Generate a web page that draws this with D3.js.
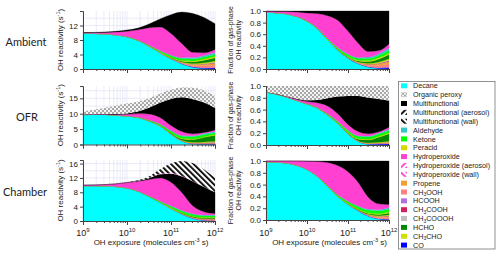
<!DOCTYPE html>
<html>
<head>
  <meta charset="utf-8">
  <script src="https://d3js.org/d3.v7.min.js"></script>
  <style>
    body { margin: 0; background: #fff; }
    svg text { font-family: "Liberation Sans", Arial, sans-serif; fill: #222; }
  </style>
</head>
<body>
<svg width="500" height="255"></svg>
<script>
// log10 of OH exposure (molecules cm-3 s) at which values were read
var logExposure = [9, 9.25, 9.5, 9.75, 10, 10.25, 10.5, 10.75, 11, 11.25, 11.5, 11.75, 12];

// --- Ambient (OH reactivity, s-1)
var ambDecane   = [9.85, 9.8, 9.7, 9.4, 8.9, 7.9, 6.3, 4.5, 2.8, 1.4, 0.5, 0.12, 0.02];
var ambCO       = [0, 0, 0, 0, 0, 0, 0, 0.01, 0.02, 0.05, 0.1, 0.2, 0.3];
var ambCH3OOH   = [0, 0, 0, 0, 0, 0, 0.01, 0.03, 0.08, 0.2, 0.4, 0.6, 0.8];
var ambPropene  = [0, 0, 0, 0, 0, 0, 0.01, 0.02, 0.05, 0.12, 0.25, 0.4, 0.5];
var ambHCOOH    = [0, 0, 0, 0, 0, 0, 0, 0, 0, 0.01, 0.03, 0.06, 0.1];
var ambCH3COOH  = [0, 0, 0, 0, 0, 0, 0, 0, 0, 0.01, 0.02, 0.05, 0.1];
var ambCH3COOOH = [0, 0, 0, 0, 0, 0, 0, 0, 0, 0.01, 0.02, 0.05, 0.1];
var ambCH3CHO   = [0, 0, 0, 0, 0, 0.01, 0.02, 0.04, 0.08, 0.12, 0.2, 0.25, 0.3];
var ambHCHO     = [0, 0, 0, 0, 0, 0.01, 0.02, 0.05, 0.12, 0.25, 0.45, 0.7, 0.9];
var ambPeracid  = [0, 0, 0, 0, 0.01, 0.02, 0.04, 0.07, 0.12, 0.18, 0.25, 0.3, 0.3];
var ambKetone   = [0, 0, 0, 0.01, 0.03, 0.07, 0.14, 0.28, 0.45, 0.55, 0.6, 0.6, 0.6];
var ambAldehyde = [0, 0, 0, 0, 0.01, 0.02, 0.04, 0.08, 0.14, 0.22, 0.32, 0.42, 0.5];
var ambHydroperoxide = [0.15, 0.22, 0.4, 0.79, 1.45, 2.77, 4.82, 6.5, 5.94, 3.88, 1.46, 0.75, 0.88];
var ambMulti    = [0.05, 0.08, 0.1, 0.2, 0.35, 0.5, 1.0, 2.2, 5.2, 8.7, 10.7, 9.7, 7.1];

// --- OFR
var ofrDecane   = [9.7, 9.75, 9.75, 9.5, 9.24, 8.8, 7.65, 6.1, 3.4, 1.1, 0.2, 0.05, 0.01];
var ofrCO       = [0, 0, 0, 0, 0, 0, 0, 0.01, 0.03, 0.08, 0.15, 0.25, 0.35];
var ofrCH3OOH   = [0, 0, 0, 0, 0, 0, 0, 0, 0.01, 0.03, 0.06, 0.1, 0.15];
var ofrPropene  = [0, 0, 0, 0, 0, 0, 0, 0, 0.01, 0.03, 0.06, 0.1, 0.12];
var ofrHCOOH    = [0, 0, 0, 0, 0, 0, 0, 0, 0, 0, 0.02, 0.04, 0.06];
var ofrCH3COOH  = [0, 0, 0, 0, 0, 0, 0, 0, 0, 0, 0.02, 0.03, 0.05];
var ofrCH3COOOH = [0, 0, 0, 0, 0, 0, 0, 0, 0, 0, 0.02, 0.03, 0.04];
var ofrCH3CHO   = [0, 0, 0, 0, 0, 0.01, 0.02, 0.04, 0.07, 0.12, 0.18, 0.22, 0.25];
var ofrHCHO     = [0, 0, 0, 0, 0, 0.01, 0.03, 0.08, 0.2, 0.45, 0.9, 1.5, 2.0];
var ofrPeracid  = [0, 0, 0, 0, 0.01, 0.02, 0.04, 0.06, 0.1, 0.15, 0.2, 0.22, 0.22];
var ofrKetone   = [0, 0, 0, 0.01, 0.03, 0.07, 0.14, 0.3, 0.55, 0.75, 0.75, 0.7, 0.6];
var ofrAldehyde = [0, 0, 0, 0, 0.01, 0.02, 0.04, 0.08, 0.14, 0.2, 0.28, 0.35, 0.4];
var ofrHydroperoxide = [0.02, 0.05, 0.12, 0.25, 0.5, 1.1, 2.0, 2.1, 1.7, 1.3, 0.66, 0.31, 0.49];
var ofrMulti    = [0, 0, 0, 0.14, 0.31, 0.67, 1.98, 4.78, 8.59, 11.14, 11.2, 9.75, 7.11];
var ofrPeroxy   = [1.08, 1.5, 2.1, 2.7, 3.2, 3.3, 3.1, 2.95, 3.0, 3.15, 3.7, 3.85, 3.95];

// --- Chamber
var chDecane    = [9.85, 9.85, 9.8, 9.6, 9.2, 8.3, 6.8, 5.2, 3.5, 1.9, 0.7, 0.15, 0.03];
var chCO        = [0, 0, 0, 0, 0, 0, 0, 0, 0.01, 0.02, 0.04, 0.06, 0.08];
var chCH3OOH    = [0, 0, 0, 0, 0, 0, 0, 0.01, 0.03, 0.07, 0.12, 0.18, 0.22];
var chPropene   = [0, 0, 0, 0, 0, 0, 0, 0.01, 0.02, 0.05, 0.1, 0.14, 0.18];
var chHCOOH     = [0, 0, 0, 0, 0, 0, 0, 0, 0, 0.01, 0.02, 0.03, 0.04];
var chCH3COOH   = [0, 0, 0, 0, 0, 0, 0, 0, 0, 0, 0.01, 0.02, 0.03];
var chCH3COOOH  = [0, 0, 0, 0, 0, 0, 0, 0, 0, 0, 0.01, 0.02, 0.03];
var chCH3CHO    = [0, 0, 0, 0, 0, 0, 0.01, 0.02, 0.04, 0.06, 0.08, 0.1, 0.1];
var chHCHO      = [0, 0, 0, 0, 0, 0, 0.01, 0.02, 0.05, 0.1, 0.15, 0.2, 0.25];
var chPeracid   = [0, 0, 0, 0, 0, 0.01, 0.02, 0.04, 0.07, 0.1, 0.12, 0.12, 0.12];
var chKetone    = [0, 0, 0, 0, 0.01, 0.04, 0.1, 0.22, 0.4, 0.5, 0.5, 0.45, 0.4];
var chAldehyde  = [0, 0, 0, 0, 0, 0.01, 0.02, 0.05, 0.1, 0.15, 0.18, 0.2, 0.2];
var chHydroperoxide = [0.15, 0.2, 0.35, 0.75, 1.49, 2.74, 4.64, 6.43, 6.58, 4.94, 2.17, 0.93, 0.42];
var chMulti     = [0, 0, 0, 0, 0.05, 0.1, 0.3, 1.0, 2.4, 4.5, 6.8, 6.9, 5.9];
var chHydroWall = [0, 0, 0, 0, 0, 0.03, 0.1, 0.2, 0.2, 0.12, 0.06, 0.03, 0.02];
var chMultiWall = [0, 0, 0, 0, 0, 0.1, 0.4, 1.2, 2.6, 4.2, 5.0, 4.8, 4.0];

// legend order
var species = ["Decane", "Organic peroxy", "Multifunctional", "Multifunctional (aerosol)",
  "Multifunctional (wall)", "Aldehyde", "Ketone", "Peracid", "Hydroperoxide",
  "Hydroperoxide (aerosol)", "Hydroperoxide (wall)", "Propene", "CH3OOH", "HCOOH",
  "CH3COOH", "CH3COOOH", "HCHO", "CH3CHO", "CO"];
var speciesFill = ["#00ffff", "url(#checker)", "#000000", "url(#multiAer)", "url(#multiWall)",
  "#33c8c8", "#00ff00", "#d6d600", "#ff40d0", "url(#hydAer)", "url(#hydWall)", "#f0a030",
  "#ff8080", "#b070e0", "#d02060", "#c0c0c0", "#008800", "#d0e000", "#0000ff"];

// stacking order, bottom to top
var stackOrder = ["Decane", "CO", "CH3OOH", "Propene", "HCOOH", "CH3COOH", "CH3COOOH", "CH3CHO",
  "HCHO", "Peracid", "Ketone", "Aldehyde", "Hydroperoxide", "Multifunctional",
  "Hydroperoxide (aerosol)", "Hydroperoxide (wall)", "Multifunctional (aerosol)",
  "Multifunctional (wall)", "Organic peroxy"];
var gasOrder = stackOrder.filter(function(k) { return k.indexOf("(") < 0; });

var fillOf = {};
species.forEach(function(s, i) { fillOf[s] = speciesFill[i]; });

function buildRows(series) {
  return logExposure.map(function(e, i) {
    var row = {x: Math.pow(10, e)};
    species.forEach(function(s) { row[s] = series[s] ? series[s][i] : 0; });
    return row;
  });
}

var rows = [
  {label: "Ambient", lx: 26, ly: 46, yMax: 16, yTicks: [0, 4, 8, 12], top: 11, bottom: 69, rTop: 11, rBottom: 69,
   series: {"Decane": ambDecane, "CO": ambCO, "CH3OOH": ambCH3OOH, "Propene": ambPropene, "HCOOH": ambHCOOH,
     "CH3COOH": ambCH3COOH, "CH3COOOH": ambCH3COOOH, "CH3CHO": ambCH3CHO, "HCHO": ambHCHO, "Peracid": ambPeracid,
     "Ketone": ambKetone, "Aldehyde": ambAldehyde, "Hydroperoxide": ambHydroperoxide, "Multifunctional": ambMulti}},
  {label: "OFR", lx: 27, ly: 121, yMax: 19, yTicks: [0, 5, 10, 15], top: 86, bottom: 144.5, rTop: 86, rBottom: 145,
   series: {"Decane": ofrDecane, "CO": ofrCO, "CH3OOH": ofrCH3OOH, "Propene": ofrPropene, "HCOOH": ofrHCOOH,
     "CH3COOH": ofrCH3COOH, "CH3COOOH": ofrCH3COOOH, "CH3CHO": ofrCH3CHO, "HCHO": ofrHCHO, "Peracid": ofrPeracid,
     "Ketone": ofrKetone, "Aldehyde": ofrAldehyde, "Hydroperoxide": ofrHydroperoxide, "Multifunctional": ofrMulti,
     "Organic peroxy": ofrPeroxy}},
  {label: "Chamber", lx: 25, ly: 196, yMax: 17, yTicks: [0, 4, 8, 12, 16], top: 160, bottom: 221, rTop: 161, rBottom: 220,
   series: {"Decane": chDecane, "CO": chCO, "CH3OOH": chCH3OOH, "Propene": chPropene, "HCOOH": chHCOOH,
     "CH3COOH": chCH3COOH, "CH3COOOH": chCH3COOOH, "CH3CHO": chCH3CHO, "HCHO": chHCHO, "Peracid": chPeracid,
     "Ketone": chKetone, "Aldehyde": chAldehyde, "Hydroperoxide": chHydroperoxide, "Multifunctional": chMulti,
     "Hydroperoxide (wall)": chHydroWall, "Multifunctional (wall)": chMultiWall}}
];

var svg = d3.select("svg");
svg.append("rect").attr("width", 500).attr("height", 255).attr("fill", "#fff");

// fill patterns
var defs = svg.append("defs");
function hatch(id, color, angle) {
  var p = defs.append("pattern").attr("id", id).attr("patternUnits", "userSpaceOnUse")
    .attr("width", 4).attr("height", 4).attr("patternTransform", "rotate(" + angle + ")");
  p.append("rect").attr("width", 4).attr("height", 4).attr("fill", "#fff");
  p.append("rect").attr("width", 1.8).attr("height", 4).attr("fill", color);
}
hatch("multiAer", "#000", 45);
hatch("multiWall", "#000", -45);
hatch("hydAer", "#ff40d0", 45);
hatch("hydWall", "#ff40d0", -45);
var ck = defs.append("pattern").attr("id", "checker").attr("patternUnits", "userSpaceOnUse")
  .attr("width", 4).attr("height", 4);
ck.append("rect").attr("width", 4).attr("height", 4).attr("fill", "#f4f4f4");
ck.append("rect").attr("width", 2).attr("height", 2).attr("fill", "#a8a8a8");
ck.append("rect").attr("x", 2).attr("y", 2).attr("width", 2).attr("height", 2).attr("fill", "#a8a8a8");

function isDecade(d) {
  var l = Math.log10(d);
  return Math.abs(l - Math.round(l)) < 1e-6;
}

function drawXAxis(x, yPos, labels) {
  var g = svg.append("g").attr("transform", "translate(0," + yPos + ")")
    .call(d3.axisBottom(x).tickValues(x.ticks()).tickSize(4).tickFormat(""));
  g.selectAll(".tick line").attr("y2", function(d) { return isDecade(d) ? 4 : 2; }).attr("stroke", "#444");
  g.select(".domain").attr("stroke", "#444");
  if (labels) {
    [1e9, 1e10, 1e11, 1e12].forEach(function(d) {
      var t = svg.append("text").attr("x", x(d)).attr("y", 236)
        .attr("text-anchor", "middle").style("font-size", "9px");
      t.append("tspan").text("10");
      t.append("tspan").attr("dy", -4).style("font-size", "6px").text(Math.round(Math.log10(d)));
    });
    var xt = svg.append("text").attr("x", (x.range()[0] + x.range()[1]) / 2 + 2).attr("y", 245)
      .attr("text-anchor", "middle").style("font-size", "8px");
    xt.append("tspan").text("OH exposure (molecules cm");
    xt.append("tspan").attr("dy", -3).style("font-size", "5.5px").text("-3");
    xt.append("tspan").attr("dy", 3).text(" s)");
  }
}

function drawYAxis(y, xPos, ticks, fmt) {
  var g = svg.append("g").attr("transform", "translate(" + xPos + ",0)")
    .call(d3.axisLeft(y).tickValues(ticks).tickSize(3).tickPadding(2).tickFormat(fmt));
  g.select(".domain").attr("stroke", "#444");
  g.selectAll(".tick line").attr("stroke", "#444");
  g.selectAll(".tick text").style("font-size", "8px").attr("fill", "#222");
}

rows.forEach(function(r, ri) {
  var data = buildRows(r.series);
  var last = ri === rows.length - 1;

  // ---------- left: absolute OH reactivity
  var x = d3.scaleLog().domain([1e9, 1e12]).range([83, 215]);
  var y = d3.scaleLinear().domain([0, r.yMax]).range([r.bottom, r.top]);

  var grid = svg.append("g").attr("stroke", "#e2e2f6").attr("stroke-width", 0.7);
  x.ticks().forEach(function(d) {
    grid.append("line").attr("x1", x(d)).attr("x2", x(d)).attr("y1", r.top).attr("y2", r.bottom);
  });
  d3.range(0, r.yMax, r.yTicks[1] / 2).forEach(function(d) {
    grid.append("line").attr("x1", 83).attr("x2", 215).attr("y1", y(d)).attr("y2", y(d));
  });

  var stacked = d3.stack().keys(stackOrder)(data);
  var area = d3.area()
    .x(function(d) { return x(d.data.x); })
    .y0(function(d) { return y(d[0]); })
    .y1(function(d) { return y(d[1]); })
    .curve(d3.curveMonotoneX);

  svg.append("g").selectAll("path").data(stacked).enter().append("path")
    .attr("d", area)
    .attr("fill", function(d) { return fillOf[d.key]; })
    .attr("stroke", function(d) { return fillOf[d.key].indexOf("url") === 0 ? "none" : fillOf[d.key]; })
    .attr("stroke-width", 0.3);

  drawXAxis(x, r.bottom, last);
  drawYAxis(y, 83, r.yTicks, d3.format("d"));

  var yt = svg.append("text").attr("transform", "translate(63," + (r.top + r.bottom) / 2 + ") rotate(-90)")
    .attr("text-anchor", "middle").style("font-size", "8px");
  yt.append("tspan").text("OH reactivity (s");
  yt.append("tspan").attr("dy", -3).style("font-size", "5.5px").text("-1");
  yt.append("tspan").attr("dy", 3).text(")");

  svg.append("text").attr("x", r.lx).attr("y", r.ly).attr("text-anchor", "middle")
    .style("font-family", "Lato, 'Open Sans', sans-serif").style("font-size", "11px").text(r.label);

  // ---------- right: fraction of gas-phase OH reactivity
  var xr = d3.scaleLog().domain([1e9, 1e12]).range([266, 389]);
  var yr = d3.scaleLinear().domain([0, 1]).range([r.rBottom, r.rTop]);

  var frac = d3.stack().keys(gasOrder).offset(d3.stackOffsetExpand)(data);
  var areaR = d3.area()
    .x(function(d) { return xr(d.data.x); })
    .y0(function(d) { return yr(d[0]); })
    .y1(function(d) { return yr(d[1]); })
    .curve(d3.curveMonotoneX);

  svg.append("g").selectAll("path").data(frac).enter().append("path")
    .attr("d", areaR)
    .attr("fill", function(d) { return fillOf[d.key]; })
    .attr("stroke", function(d) { return fillOf[d.key].indexOf("url") === 0 ? "none" : fillOf[d.key]; })
    .attr("stroke-width", 0.3);

  drawXAxis(xr, r.rBottom, last);
  drawYAxis(yr, 266, [0, 0.2, 0.4, 0.6, 0.8, 1.0], d3.format(".1f"));

  var cy = (r.rTop + r.rBottom) / 2;
  svg.append("text").attr("transform", "translate(233," + cy + ") rotate(-90)")
    .attr("text-anchor", "middle").style("font-size", "7px").text("Fraction of gas-phase");
  svg.append("text").attr("transform", "translate(241," + cy + ") rotate(-90)")
    .attr("text-anchor", "middle").style("font-size", "7px").text("OH reactivity");
});

// ---------- legend
var legend = svg.append("g");
legend.append("rect").attr("x", 398.5).attr("y", 81.5).attr("width", 96.5).attr("height", 167.5)
  .attr("fill", "#fff").attr("stroke", "#777").attr("stroke-width", 0.8);

var item = legend.selectAll("g.item").data(species).enter().append("g").attr("class", "item")
  .attr("transform", function(d, i) { return "translate(0," + (85.8 + i * 8.85) + ")"; });
item.append("rect").attr("x", 401).attr("y", -2.5).attr("width", 6).attr("height", 5)
  .attr("fill", function(d) { return fillOf[d]; });
item.each(function(d) {
  var t = d3.select(this).append("text").attr("x", 413).attr("y", 2.6).style("font-size", "7.2px");
  // chemical formulae: digits become subscripts
  var parts = d.startsWith("CH") ? d.split(/(\d)/) : [d];
  parts.forEach(function(p, j) {
    if (p === "") return;
    if (/^\d$/.test(p)) {
      t.append("tspan").attr("dy", 1.5).style("font-size", "5px").text(p);
    } else {
      t.append("tspan").attr("dy", j > 0 ? -1.5 : 0).text(p);
    }
  });
});
</script>
</body>
</html>
